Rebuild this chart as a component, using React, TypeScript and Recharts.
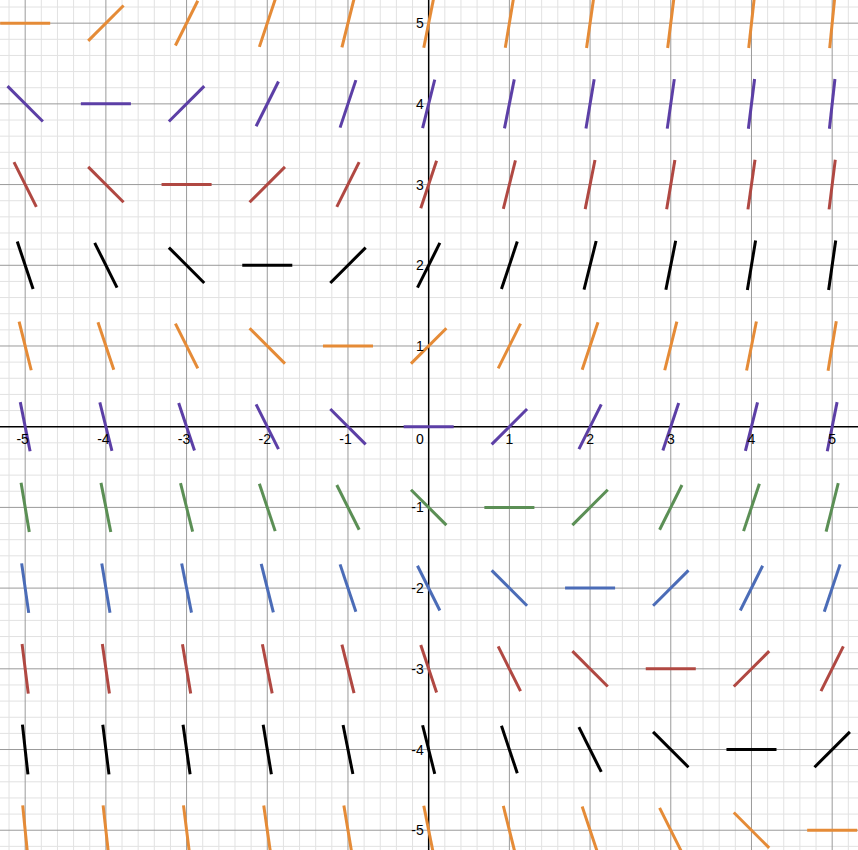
import { ComposedChart, XAxis, YAxis, ReferenceLine, ReferenceDot } from "recharts";

// slope field dy/dx at each integer lattice point
const X_VALUES = [-5, -4, -3, -2, -1, 0, 1, 2, 3, 4, 5];
const Y_VALUES = [5, 4, 3, 2, 1, 0, -1, -2, -3, -4, -5];

// one row per y value (top to bottom), one slope per x value (left to right)
const SLOPES = [
  [0, 1, 2, 3, 4, 5, 6, 7, 8, 9, 10],
  [-1, 0, 1, 2, 3, 4, 5, 6, 7, 8, 9],
  [-2, -1, 0, 1, 2, 3, 4, 5, 6, 7, 8],
  [-3, -2, -1, 0, 1, 2, 3, 4, 5, 6, 7],
  [-4, -3, -2, -1, 0, 1, 2, 3, 4, 5, 6],
  [-5, -4, -3, -2, -1, 0, 1, 2, 3, 4, 5],
  [-6, -5, -4, -3, -2, -1, 0, 1, 2, 3, 4],
  [-7, -6, -5, -4, -3, -2, -1, 0, 1, 2, 3],
  [-8, -7, -6, -5, -4, -3, -2, -1, 0, 1, 2],
  [-9, -8, -7, -6, -5, -4, -3, -2, -1, 0, 1],
  [-10, -9, -8, -7, -6, -5, -4, -3, -2, -1, 0],
];

const ROW_COLORS = [
  "#e58b37", "#5c3fa6", "#b04842", "#000000", "#e58b37", "#5c3fa6",
  "#5b8f55", "#4b6cb7", "#b04842", "#000000", "#e58b37",
];

const X_TICKS = [-5, -4, -3, -2, -1, 1, 2, 3, 4, 5];
const Y_TICKS = [5, 4, 3, 2, 1, -1, -2, -3, -4, -5];

const W = 858;
const H = 850;
const X_DOMAIN: [number, number] = [-5.312, 5.32];
const Y_DOMAIN: [number, number] = [-5.245, 5.287];
const HALF = 0.31;
const GRID_STEPS = Array.from({ length: 55 }, (_, i) => i - 27);

const FONT = "'Liberation Sans', Arial, sans-serif";

const segments = Y_VALUES.flatMap((y, r) =>
  X_VALUES.map((x, c) => {
    const m = SLOPES[r][c];
    const dx = HALF / Math.sqrt(1 + m * m);
    return {
      key: `s-${x}-${y}`,
      color: ROW_COLORS[r],
      pts: [
        { x: x - dx, y: y - m * dx },
        { x: x + dx, y: y + m * dx },
      ],
    };
  })
);

const App = () => {
  return (
    <div style={{ position: "absolute", left: 0, top: 0, width: W, height: H, background: "#fff" }}>
      <ComposedChart width={W} height={H} margin={{ top: 0, right: 0, bottom: 0, left: 0 }}>
        <XAxis type="number" dataKey="x" domain={X_DOMAIN} allowDataOverflow hide />
        <YAxis type="number" dataKey="y" domain={Y_DOMAIN} allowDataOverflow hide />

        {/* minor grid */}
        {GRID_STEPS.filter((k) => k % 5 !== 0).map((k) => (
          <ReferenceLine key={`mx${k}`} x={k / 5} stroke="#e2e2e2" strokeWidth={1} ifOverflow="hidden" />
        ))}
        {GRID_STEPS.filter((k) => k % 5 !== 0).map((k) => (
          <ReferenceLine key={`my${k}`} y={k / 5} stroke="#e2e2e2" strokeWidth={1} ifOverflow="hidden" />
        ))}
        {/* major grid */}
        {GRID_STEPS.filter((k) => k % 5 === 0 && k !== 0).map((k) => (
          <ReferenceLine key={`Mx${k}`} x={k / 5} stroke="#9a9a9a" strokeWidth={1} ifOverflow="hidden" />
        ))}
        {GRID_STEPS.filter((k) => k % 5 === 0 && k !== 0).map((k) => (
          <ReferenceLine key={`My${k}`} y={k / 5} stroke="#9a9a9a" strokeWidth={1} ifOverflow="hidden" />
        ))}
        {/* axes */}
        <ReferenceLine x={0} stroke="#000" strokeWidth={1.5} />
        <ReferenceLine y={0} stroke="#000" strokeWidth={1.5} />

        {segments.map((s) => (
          <ReferenceLine
            key={s.key}
            segment={s.pts}
            stroke={s.color}
            strokeWidth={3}
            ifOverflow="hidden"
          />
        ))}

        {X_TICKS.map((t) => (
          <ReferenceDot
            key={`xl${t}`}
            x={t}
            y={0}
            r={0}
            fill="none"
            stroke="none"
            label={{
              content: ({ viewBox }: any) => (
                <text
                  x={viewBox.x + viewBox.width / 2 + (t < 0 ? -2.5 : 0)}
                  y={viewBox.y + 17}
                  textAnchor="middle"
                  fontSize={14}
                  fontFamily={FONT}
                  fill="#000"
                >
                  {t}
                </text>
              ),
            }}
          />
        ))}
        {Y_TICKS.map((t) => (
          <ReferenceDot
            key={`yl${t}`}
            x={0}
            y={t}
            r={0}
            fill="none"
            stroke="none"
            label={{
              content: ({ viewBox }: any) => (
                <text
                  x={viewBox.x - 5}
                  y={viewBox.y + 5}
                  textAnchor="end"
                  fontSize={14}
                  fontFamily={FONT}
                  fill="#000"
                >
                  {t}
                </text>
              ),
            }}
          />
        ))}
        <ReferenceDot
          x={0}
          y={0}
          r={0}
          fill="none"
          stroke="none"
          label={{
            content: ({ viewBox }: any) => (
              <text
                x={viewBox.x - 5}
                y={viewBox.y + 17}
                textAnchor="end"
                fontSize={14}
                fontFamily={FONT}
                fill="#000"
              >
                0
              </text>
            ),
          }}
        />
      </ComposedChart>
    </div>
  );
};

export default App;
